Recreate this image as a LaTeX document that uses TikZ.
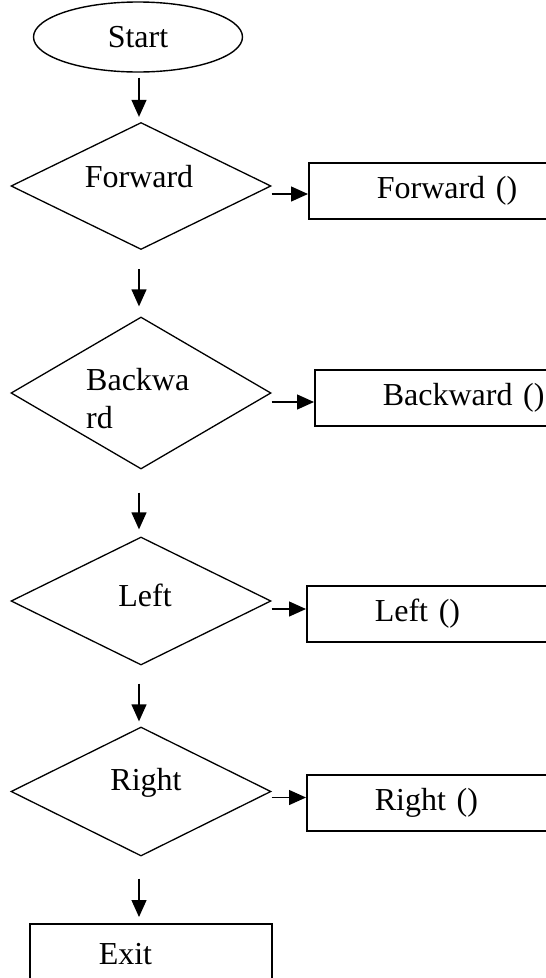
\documentclass[tikz,border=0pt]{standalone}
\usepackage{fontspec}
\setmainfont{Liberation Serif}
\usetikzlibrary{shapes.geometric,arrows.meta}
\begin{document}
\begin{tikzpicture}[x=1pt,y=-1pt,
  every node/.style={font=\fontsize{32}{38}\selectfont},
  dec/.style={draw,shape=diamond,line width=1.3pt,inner sep=0pt,minimum width=260pt},
  term/.style={draw,ellipse,line width=1.4pt,inner sep=0pt,minimum width=209pt,minimum height=70pt},
  procbox/.style={draw,rectangle,line width=1.6pt,anchor=west,minimum height=56pt,
      inner xsep=68pt,inner ysep=0pt,text width=200pt,align=left},
  lbl/.style={inner sep=0pt},
  arr/.style={line width=1.3pt,-{Triangle[length=17pt,width=15pt]}}
]
\useasboundingbox (0,0) rectangle (546,978);
\clip (0,0) rectangle (546,978);

% start
\node[term] (start) at (138,37) {Start};

% decisions
\node[dec,minimum height=127pt] (dfwd) at (141,186) {};
\node[lbl] (tfwd) at (139,177) {Forward};
\node[dec,minimum height=152pt] (dbwd) at (141,393) {};
\node[lbl,align=left,anchor=west] (tbwd) at (86,399) {Backwa\\rd};
\node[dec,minimum height=128pt] (dleft) at (141,601) {};
\node[lbl] (tleft) at (145,595) {Left};
\node[dec,minimum height=129pt] (dright) at (141,791.5) {};
\node[lbl] (tright) at (146,783) {Right};

% actions
\node[procbox] (bfwd) at (308,191) {Forward ()};
\node[procbox] (bbwd) at (314,398) {Backward ()};
\node[procbox] (bleft) at (306,614) {Left ()};
\node[procbox] (bright) at (306,803) {Right ()};

% exit
\node[draw,rectangle,line width=1.6pt,anchor=north west,minimum width=242pt,
      minimum height=60pt,inner xsep=69pt,inner ysep=0pt,text width=104pt,align=left]
      (exit) at (29,923) {Exit};

% connector end points
\coordinate (o1) at ([yshift=-8pt]dfwd.east);
\coordinate (o2) at ([yshift=-9pt]dbwd.east);
\coordinate (o3) at ([yshift=-8pt]dleft.east);
\coordinate (o4) at ([yshift=-6pt]dright.east);
\coordinate (o5) at ([xshift=-2pt,yshift=-22pt]dright.south);

% vertical flow
\draw[arr] ([xshift=1pt,yshift=-5pt]start.south) -- ([xshift=-2pt,yshift=5pt]dfwd.north);
\draw[arr] ([xshift=-2pt,yshift=-19pt]dfwd.south) -- ([xshift=-2pt,yshift=10pt]dbwd.north);
\draw[arr] ([xshift=-2pt,yshift=-23pt]dbwd.south) -- ([xshift=-2pt,yshift=7pt]dleft.north);
\draw[arr] ([xshift=-2pt,yshift=-18pt]dleft.south) -- ([xshift=-2pt,yshift=5pt]dright.north);
\draw[arr] (o5) -- ([yshift=6pt]exit.north -| o5);

% horizontal flow
\draw[arr] (o1) -- (bfwd.west |- o1);
\draw[arr] (o2) -- (bbwd.west |- o2);
\draw[arr] (o3) -- (bleft.west |- o3);
\draw[arr] (o4) -- (bright.west |- o4);
\end{tikzpicture}
\end{document}
